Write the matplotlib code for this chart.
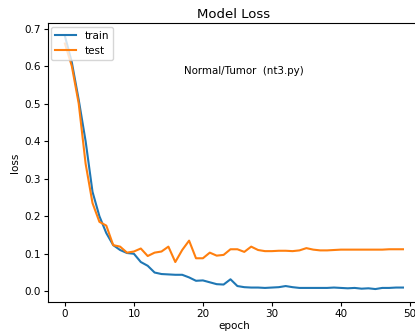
import matplotlib
matplotlib.use("Agg")
import matplotlib.pyplot as plt

epochs = list(range(50))
train = [0.680, 0.610, 0.510, 0.400, 0.265, 0.200, 0.155, 0.123, 0.110, 0.102,
         0.100, 0.078, 0.068, 0.050, 0.046, 0.045, 0.044, 0.044, 0.037, 0.028,
         0.029, 0.024, 0.019, 0.018, 0.032, 0.014, 0.011, 0.010, 0.010, 0.009,
         0.010, 0.011, 0.014, 0.011, 0.009, 0.009, 0.009, 0.009, 0.009, 0.010,
         0.009, 0.008, 0.009, 0.007, 0.008, 0.006, 0.009, 0.009, 0.010, 0.010]
test = [0.660, 0.600, 0.500, 0.340, 0.235, 0.185, 0.175, 0.123, 0.119, 0.103,
        0.106, 0.114, 0.094, 0.103, 0.106, 0.119, 0.078, 0.110, 0.135, 0.088,
        0.088, 0.103, 0.095, 0.097, 0.112, 0.112, 0.105, 0.119, 0.110, 0.107,
        0.107, 0.108, 0.108, 0.107, 0.109, 0.115, 0.111, 0.109, 0.109, 0.110,
        0.111, 0.111, 0.111, 0.111, 0.111, 0.111, 0.111, 0.112, 0.112, 0.112]

fig = plt.figure(figsize=(4.15, 3.34), dpi=100)
ax = fig.add_axes([0.1157, 0.0967, 0.896, 0.8333])
ax.plot(epochs, train, color="#1f77b4", lw=1.5, label="train")
ax.plot(epochs, test, color="#ff7f0e", lw=1.5, label="test")
ax.set_title("Model Loss", fontsize=9.5, pad=4)
ax.set_xlabel("epoch", fontsize=7.5, labelpad=2)
ax.set_ylabel("loss", fontsize=7.5, labelpad=3)
ax.tick_params(labelsize=7.5, length=3, pad=2)
ax.set_xticks([0, 10, 20, 30, 40, 50])
ax.set_yticks([0.0, 0.1, 0.2, 0.3, 0.4, 0.5, 0.6, 0.7])
ax.legend(loc="upper left", fontsize=7.5, borderaxespad=0.3, handlelength=2.0)
ax.text(26, 0.587, "Normal/Tumor  (nt3.py)", ha="center", va="center", fontsize=7.4)
fig.savefig("out.png", dpi=100)
